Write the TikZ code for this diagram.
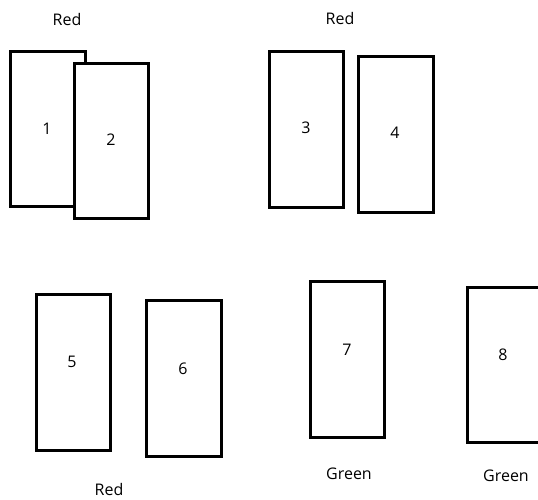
\documentclass[tikz,border=0pt]{standalone}
\usepackage{fontspec}
\setmainfont{Open Sans}
\begin{document}
\begin{tikzpicture}[x=1pt,y=-1pt,
  card/.style={draw=black,line width=3pt,fill=white},
  lbl/.style={font=\fontsize{16}{19}\selectfont,inner sep=0pt}]
\useasboundingbox (0,0) rectangle (538,499);
\clip (0,0) rectangle (538,499);
\fill[white] (0,0) rectangle (538,499);
\draw[card] (10,51) rectangle (85,206);
\draw[card] (74,63) rectangle (148,218);
\draw[card] (269,51) rectangle (343,207);
\draw[card] (358,56) rectangle (433,212);
\draw[card] (36,294) rectangle (110,450);
\draw[card] (146,300) rectangle (221,456);
\draw[card] (310,281) rectangle (384,437);
\draw[card] (467,287) rectangle (548,442);
\node[lbl] (n1) at (47,129) {1};
\node[lbl] (n2) at (111,140) {2};
\node[lbl] (n3) at (306,128) {3};
\node[lbl] (n4) at (395,133) {4};
\node[lbl] (n5) at (72,362) {5};
\node[lbl] (n6) at (183,369) {6};
\node[lbl] (n7) at (347,350) {7};
\node[lbl] (n8) at (503,355) {8};
\node[lbl] (r1) at (67,19) {Red};
\node[lbl] (r2) at (340,18) {Red};
\node[lbl] (r3) at (109,489) {Red};
\node[lbl] (g1) at (349,474) {Green};
\node[lbl] (g2) at (506,476) {Green};
\end{tikzpicture}
\end{document}
